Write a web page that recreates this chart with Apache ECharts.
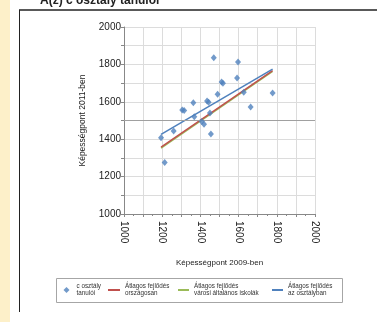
<!DOCTYPE html>
<html>
<head>
<meta charset="utf-8">
<script src="https://cdn.jsdelivr.net/npm/echarts@6/dist/echarts.min.js"></script>
<style>html,body{margin:0;padding:0;background:#fff;}#c{width:377px;height:322px;}</style>
</head>
<body>
<div id="c"></div>
<script>
// Data
const studentPoints = [
  [1194,1408],[1213,1276],[1260,1444],[1305,1556],[1315,1553],[1363,1595],
  [1368,1520],[1407,1494],[1419,1480],[1435,1604],[1443,1597],[1450,1540],
  [1455,1428],[1470,1836],[1490,1640],[1511,1706],[1518,1699],[1592,1727],
  [1597,1813],[1627,1651],[1663,1572],[1778,1647]
];
const nationalLine = [[1194,1358],[1778,1767]];
const cityLine = [[1194,1352],[1778,1762]];
const classLine = [[1194,1426],[1778,1775]];
const referenceY = [1500];
const xRange = [1000, 2000];
const yRange = [1000, 2000];
const seriesNames = ['c osztály\ntanulói', 'Átlagos fejlődés\nországosan', 'Átlagos fejlődés\nvárosi általános iskolák', 'Átlagos fejlődés\naz osztályban'];
const titleText = 'A(z) c osztály tanulói';
const xName = 'Képességpont 2009-ben';
const yName = 'Képességpont 2011-ben';

const FONT = '"Liberation Sans", Arial, sans-serif';
const chart = echarts.init(document.getElementById('c'), null, {renderer: 'canvas'});
const fmt = v => (v % 200 === 0 ? String(v) : '');
const legendText = {fontSize: 6.3, lineHeight: 6.5, color: '#333', fontFamily: FONT};
const legendCommon = {padding: 0, top: 283.5, itemGap: 0, selectedMode: false, textStyle: legendText};

chart.setOption({
  animation: false,
  backgroundColor: '#fff',
  grid: {left: 124, top: 27, width: 191, height: 187},
  xAxis: {
    type: 'value', min: xRange[0], max: xRange[1], interval: 100,
    name: xName, nameLocation: 'middle', nameGap: 45,
    nameTextStyle: {fontSize: 8, color: '#222', fontFamily: FONT},
    axisLine: {show: true, lineStyle: {color: '#888', width: 1}},
    axisTick: {show: true, length: 3, lineStyle: {color: '#888'}},
    minorTick: {show: true, splitNumber: 2, length: 2, lineStyle: {color: '#888'}},
    splitLine: {show: true, lineStyle: {color: '#dcdcdc', width: 1}},
    axisLabel: {rotate: -90, fontSize: 10, color: '#222', margin: 7, fontFamily: FONT, formatter: fmt}
  },
  yAxis: {
    type: 'value', min: yRange[0], max: yRange[1], interval: 100,
    name: yName, nameLocation: 'middle', nameGap: 37, nameRotate: 90,
    nameTextStyle: {fontSize: 8.5, color: '#222', fontFamily: FONT},
    axisLine: {show: true, lineStyle: {color: '#888', width: 1}},
    axisTick: {show: true, length: 3, lineStyle: {color: '#888'}},
    splitLine: {show: true, lineStyle: {color: '#dcdcdc', width: 1}},
    axisLabel: {fontSize: 10, color: '#222', margin: 3, fontFamily: FONT, formatter: fmt}
  },
  legend: [
    Object.assign({}, legendCommon, {data: [{name: seriesNames[0], icon: 'diamond'}], left: 63.5, itemWidth: 6, itemHeight: 6,
      textStyle: Object.assign({}, legendText, {padding: [0, 0, 0, 2]})}),
    Object.assign({}, legendCommon, {data: [{name: seriesNames[1], icon: 'rect'}], left: 108, itemWidth: 12, itemHeight: 2}),
    Object.assign({}, legendCommon, {data: [{name: seriesNames[2], icon: 'rect'}], left: 178, itemWidth: 11, itemHeight: 2}),
    Object.assign({}, legendCommon, {data: [{name: seriesNames[3], icon: 'rect'}], left: 272, itemWidth: 11, itemHeight: 2})
  ],
  graphic: [
    {type: 'rect', shape: {x: 0, y: 0, width: 10, height: 322}, style: {fill: '#fdf0c9'}, silent: true},
    {type: 'line', shape: {x1: 19.5, y1: 10, x2: 19.5, y2: 312}, style: {stroke: '#222', lineWidth: 1}, silent: true},
    {type: 'line', shape: {x1: 19, y1: 10, x2: 377, y2: 10}, style: {stroke: '#222', lineWidth: 1.5}, silent: true},
    {type: 'text', x: 40, y: 6.5, style: {text: titleText, fill: '#222', font: 'bold 12px ' + FONT, verticalAlign: 'bottom'}, silent: true},
    {type: 'rect', shape: {x: 56.5, y: 278.5, width: 286, height: 24}, style: {fill: 'none', stroke: '#a6a6a6', lineWidth: 1}, silent: true, z: -1}
  ],
  series: [
    {
      name: seriesNames[0], type: 'scatter', data: studentPoints,
      symbol: 'diamond', symbolSize: [6, 7],
      itemStyle: {color: '#4f81bd'}, z: 5,
      markLine: {silent: true, symbol: 'none', label: {show: false},
        lineStyle: {color: '#a0a0a0', type: 'solid', width: 1},
        data: referenceY.map(v => ({yAxis: v}))}
    },
    {name: seriesNames[1], type: 'line', data: nationalLine, showSymbol: false, symbol: 'none',
      lineStyle: {color: '#c0504d', width: 1.5}, itemStyle: {color: '#c0504d'}, z: 4},
    {name: seriesNames[2], type: 'line', data: cityLine, showSymbol: false, symbol: 'none',
      lineStyle: {color: '#9bbb59', width: 1.5}, itemStyle: {color: '#9bbb59'}, z: 3},
    {name: seriesNames[3], type: 'line', data: classLine, showSymbol: false, symbol: 'none',
      lineStyle: {color: '#4f81bd', width: 1.5}, itemStyle: {color: '#4f81bd'}, z: 4}
  ]
});
</script>
</body>
</html>
